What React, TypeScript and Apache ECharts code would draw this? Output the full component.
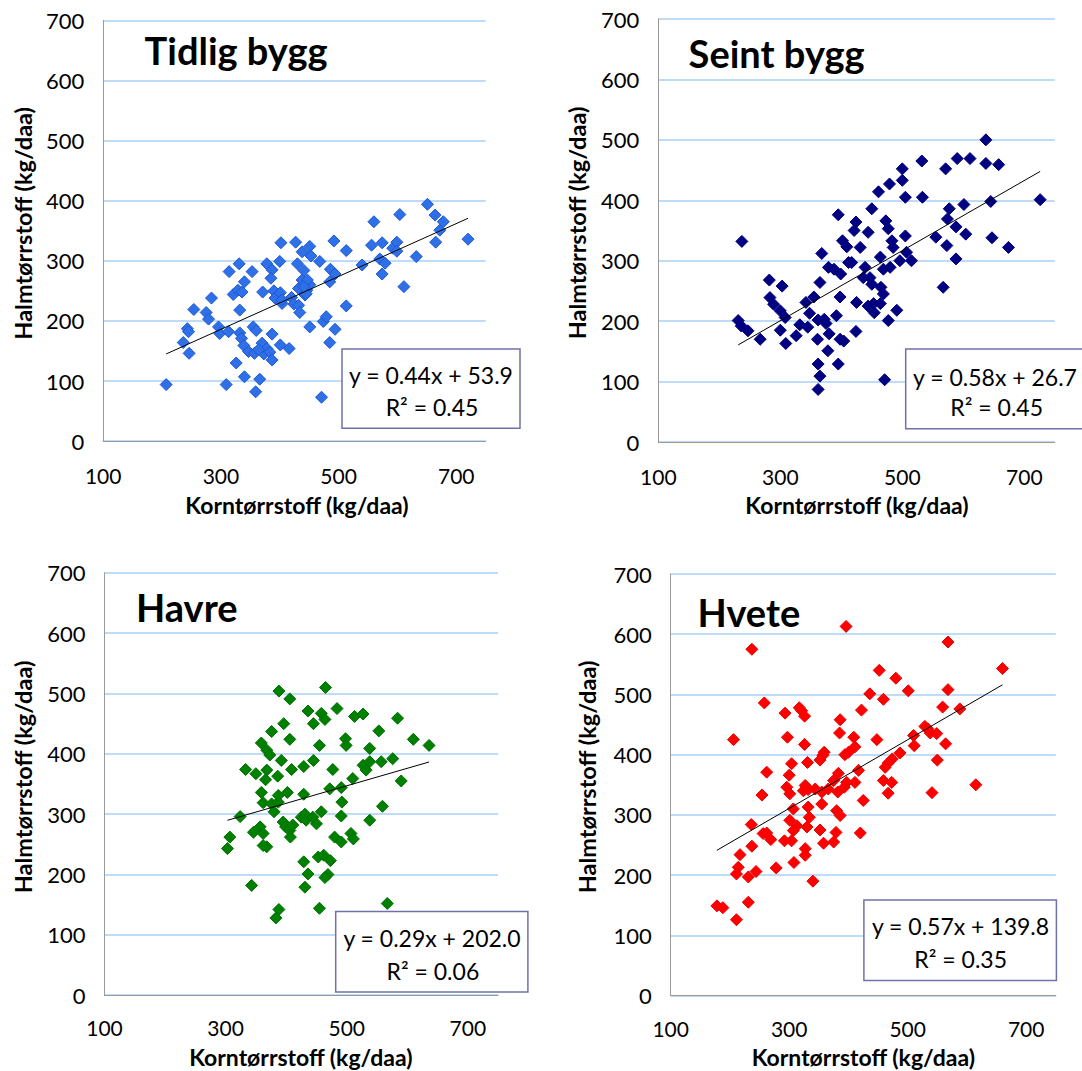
import React, { useEffect, useRef } from "react";
import * as echarts from "echarts";

// ---------- data ----------
const panelTitles = ["Tidlig bygg", "Seint bygg", "Havre", "Hvete"];
const xAxisTitle = "Korntørrstoff (kg/daa)";
const yAxisTitle = "Halmtørrstoff (kg/daa)";
const xTicks = [100, 300, 500, 700];
const yTicks = [0, 100, 200, 300, 400, 500, 600, 700];
const slopes = [0.44, 0.58, 0.29, 0.57];
const intercepts = [53.9, 26.7, 202.0, 139.8];
const rSquared = [0.45, 0.45, 0.06, 0.35];

const tidligBygg = [
  [207, 94], [236, 164], [246, 146], [243, 187], [245, 182], [254, 219], [275, 214], [279, 203], [284, 238],
  [296, 190], [298, 179], [313, 182], [314, 282], [331, 295], [321, 244], [329, 251], [336, 248], [340, 265],
  [332, 218], [332, 180], [335, 171], [339, 159], [347, 149], [326, 130], [340, 107], [309, 94], [359, 82],
  [366, 103], [353, 282], [355, 190], [360, 184], [357, 146], [370, 163], [373, 145], [378, 154], [383, 148],
  [387, 135], [387, 178], [371, 248], [378, 295], [387, 285], [385, 271], [390, 250], [392, 238], [400, 299],
  [401, 247], [402, 330], [404, 229], [401, 160], [416, 154], [420, 239], [424, 228], [427, 331], [432, 226],
  [434, 214], [430, 295], [432, 254], [438, 315], [438, 268], [441, 284], [446, 251], [443, 243], [451, 324],
  [453, 308], [451, 260], [447, 268], [445, 245], [451, 190], [468, 299], [471, 73], [474, 199], [479, 207],
  [486, 286], [485, 265], [492, 333], [494, 278], [494, 186], [485, 164], [513, 317], [513, 225], [540, 293],
  [556, 326], [560, 365], [574, 330], [570, 303], [579, 296], [574, 278], [592, 321], [599, 331], [599, 316],
  [604, 377], [611, 257], [632, 307], [651, 394], [664, 376], [672, 351], [678, 365], [665, 331], [720, 336],
  [441, 257], [404, 235], [364, 152],
];

const seintBygg = [
  [237, 332], [231, 201], [236, 192], [247, 184], [267, 170], [282, 268], [303, 258], [283, 239], [289, 228],
  [300, 217], [308, 206], [300, 185], [309, 163], [326, 176], [332, 194], [345, 190], [348, 213], [342, 231],
  [355, 240], [365, 264], [368, 312], [362, 202], [372, 203], [375, 196], [361, 170], [380, 179], [392, 209],
  [398, 170], [404, 167], [378, 151], [362, 129], [365, 109], [362, 87], [395, 129], [424, 183], [398, 240],
  [379, 289], [388, 286], [399, 278], [412, 297], [417, 297], [402, 333], [409, 323], [395, 376], [424, 364],
  [421, 350], [431, 322], [444, 347], [450, 386], [461, 414], [479, 427], [500, 452], [500, 433], [505, 405],
  [532, 465], [533, 405], [439, 289], [447, 272], [450, 261], [464, 306], [469, 286], [480, 289], [473, 366],
  [477, 353], [483, 333], [485, 322], [505, 341], [496, 300], [507, 314], [515, 300], [465, 256], [469, 245],
  [453, 229], [444, 225], [454, 214], [464, 229], [477, 201], [491, 218], [425, 231], [555, 339], [573, 325],
  [577, 386], [574, 369], [588, 356], [601, 393], [604, 344], [588, 303], [567, 256], [571, 452], [590, 469],
  [611, 469], [637, 500], [637, 461], [658, 459], [645, 398], [647, 338], [674, 322], [726, 401], [471, 103],
  [436, 272],
];

const havre = [
  [388, 504], [406, 491], [465, 510], [436, 471], [458, 467], [464, 457], [445, 450], [484, 475], [513, 462],
  [527, 466], [396, 450], [376, 437], [406, 424], [455, 414], [498, 425], [499, 414], [553, 438], [584, 459],
  [610, 424], [636, 414], [359, 418], [368, 406], [373, 398], [392, 389], [333, 374], [350, 367], [368, 373],
  [366, 357], [386, 363], [409, 374], [429, 379], [445, 389], [477, 374], [538, 409], [527, 381], [538, 387],
  [557, 387], [576, 392], [532, 373], [590, 355], [510, 359], [491, 344], [472, 342], [359, 336], [402, 336],
  [429, 333], [362, 319], [376, 317], [387, 320], [380, 304], [324, 296], [492, 320], [559, 313], [538, 290],
  [491, 297], [458, 304], [450, 284], [425, 295], [431, 300], [433, 290], [395, 287], [399, 279], [406, 273],
  [411, 282], [407, 262], [346, 270], [357, 279], [362, 268], [368, 246], [362, 248], [307, 262], [303, 243],
  [480, 262], [491, 254], [507, 268], [511, 259], [429, 221], [453, 229], [462, 232], [473, 223], [436, 201],
  [469, 200], [464, 195], [431, 179], [343, 182], [388, 142], [383, 128], [455, 144], [567, 152], [387, 331],
  [444, 295],
];

const hvete = [
  [396, 613], [237, 575], [568, 587], [660, 543], [452, 540], [480, 527], [501, 506], [436, 501], [459, 492],
  [568, 508], [559, 479], [588, 476], [258, 486], [422, 474], [293, 469], [317, 478], [321, 473], [326, 464],
  [386, 458], [385, 436], [409, 429], [448, 425], [411, 413], [400, 404], [394, 400], [359, 404], [357, 399],
  [352, 391], [331, 387], [297, 429], [326, 417], [206, 425], [510, 432], [534, 443], [538, 436], [549, 435],
  [564, 418], [550, 391], [529, 447], [511, 415], [487, 403], [474, 393], [467, 386], [462, 379], [459, 357],
  [473, 354], [467, 336], [541, 337], [615, 350], [417, 374], [411, 354], [425, 324], [420, 270], [383, 369],
  [375, 357], [366, 343], [355, 338], [344, 343], [332, 342], [324, 340], [327, 349], [304, 385], [300, 366],
  [296, 346], [301, 335], [262, 371], [254, 333], [236, 284], [256, 269], [269, 259], [307, 310], [301, 291],
  [313, 282], [307, 274], [332, 313], [334, 296], [330, 280], [355, 318], [380, 307], [386, 299], [352, 275],
  [292, 257], [304, 257], [358, 253], [375, 255], [379, 271], [327, 244], [327, 233], [308, 221], [278, 212],
  [237, 248], [217, 234], [214, 213], [211, 202], [231, 197], [244, 206], [340, 190], [178, 149], [188, 146],
  [231, 155], [211, 126], [393, 346], [397, 354], [382, 338], [262, 270],
];

const seriesData = [tidligBygg, seintBygg, havre, hvete];

// ---------- styles & layout ----------
const FONT = "Lato, 'Open Sans', sans-serif";
const markerColors = ["#2f70e8", "#000080", "#008000", "#ff0000"];
const markerBorders = ["#1c5ad0", "#000080", "#007000", "#ee0000"];

const layouts = [
  {
    grid: { left: 103.2, top: 20.4, width: 382.5, height: 420.7 },
    title: [144.6, 50], yTitle: [23.4, 223.3], xTitle: [297, 505], labelMargin: 23.5,
    box: [342, 349, 178, 79.3], eq: [431, 375], r2: [432, 406.7],
  },
  {
    grid: { left: 658.3, top: 19, width: 396.5, height: 423 },
    title: [688.6, 53.3], yTitle: [577, 223], xTitle: [857, 505], labelMargin: 23.5,
    box: [905.7, 349, 182, 79.7], eq: [995, 376.7], r2: [996.7, 406.7],
  },
  {
    grid: { left: 104.5, top: 572.8, width: 393.6, height: 422.4 },
    title: [136, 607], yTitle: [23.4, 777], xTitle: [300.8, 1057], labelMargin: 22,
    box: [335.7, 911.5, 192.2, 80.5], eq: [432, 937.9], r2: [432.9, 970.7],
  },
  {
    grid: { left: 670.7, top: 574, width: 385.1, height: 421.6 },
    title: [697.5, 612], yTitle: [586.7, 777], xTitle: [863.3, 1057], labelMargin: 22,
    box: [863.9, 900, 192.5, 80.6], eq: [960.5, 926], r2: [960.7, 958.9],
  },
];

function buildOption() {
  const grids: any[] = [];
  const xAxes: any[] = [];
  const yAxes: any[] = [];
  const series: any[] = [];
  const graphics: any[] = [];

  seriesData.forEach((data, i) => {
    const L = layouts[i];
    grids.push({ ...L.grid, containLabel: false });
    xAxes.push({
      gridIndex: i,
      type: "value",
      min: xTicks[0],
      max: 750,
      interval: xTicks[1] - xTicks[0],
      axisLine: { show: true, onZero: false, lineStyle: { color: "#9a9a9a", width: 1 } },
      axisTick: { show: false },
      splitLine: { show: false },
      axisLabel: {
        showMaxLabel: false,
        margin: L.labelMargin,
        fontSize: 21,
        fontFamily: FONT,
        color: "#000",
      },
    });
    yAxes.push({
      gridIndex: i,
      type: "value",
      min: yTicks[0],
      max: yTicks[yTicks.length - 1],
      interval: yTicks[1] - yTicks[0],
      axisLine: { show: true, onZero: false, lineStyle: { color: "#9a9a9a", width: 1 } },
      axisTick: { show: false },
      splitLine: { show: true, lineStyle: { color: "#a9d1f5", width: 1.5 } },
      axisLabel: {
        margin: 19,
        fontSize: 22,
        fontFamily: FONT,
        color: "#000",
        padding: [8, 0, 0, 0],
      },
    });
    series.push({
      type: "scatter",
      xAxisIndex: i,
      yAxisIndex: i,
      data,
      symbol: "diamond",
      symbolSize: 12,
      itemStyle: { color: markerColors[i], borderColor: markerBorders[i], borderWidth: 1, opacity: 1 },
      silent: true,
      z: 2,
    });
    const xs = data.map((d) => d[0]);
    const xMin = Math.min(...xs);
    const xMax = Math.max(...xs);
    series.push({
      type: "line",
      xAxisIndex: i,
      yAxisIndex: i,
      data: [
        [xMin, slopes[i] * xMin + intercepts[i]],
        [xMax, slopes[i] * xMax + intercepts[i]],
      ],
      symbol: "none",
      lineStyle: { color: "#000", width: 1 },
      silent: true,
      z: 3,
    });

    // panel title
    graphics.push({
      type: "text",
      x: L.title[0],
      y: L.title[1],
      z: 10,
      style: {
        text: panelTitles[i],
        font: `bold 38px ${FONT}`,
        fill: "#000",
        align: "left",
        verticalAlign: "middle",
      },
    });
    // y-axis title (rotated)
    graphics.push({
      type: "text",
      x: L.yTitle[0],
      y: L.yTitle[1],
      rotation: Math.PI / 2,
      z: 10,
      style: {
        text: yAxisTitle,
        font: `bold 23.5px ${FONT}`,
        fill: "#000",
        align: "center",
        verticalAlign: "middle",
      },
    });
    // x-axis title
    graphics.push({
      type: "text",
      x: L.xTitle[0],
      y: L.xTitle[1],
      z: 10,
      style: {
        text: xAxisTitle,
        font: `bold 23px ${FONT}`,
        fill: "#000",
        align: "center",
        verticalAlign: "middle",
      },
    });
    // regression box
    graphics.push({
      type: "rect",
      z: 9,
      shape: { x: L.box[0], y: L.box[1], width: L.box[2], height: L.box[3] },
      style: { fill: "#ffffff", stroke: "#7070aa", lineWidth: 1.5 },
    });
    graphics.push({
      type: "text",
      x: L.eq[0],
      y: L.eq[1],
      z: 10,
      style: {
        text: `y = ${slopes[i].toFixed(2)}x + ${intercepts[i].toFixed(1)}`,
        font: `23px ${FONT}`,
        fill: "#000",
        align: "center",
        verticalAlign: "middle",
      },
    });
    graphics.push({
      type: "text",
      x: L.r2[0],
      y: L.r2[1],
      z: 10,
      style: {
        text: `R² = ${rSquared[i].toFixed(2)}`,
        font: `23px ${FONT}`,
        fill: "#000",
        align: "center",
        verticalAlign: "middle",
      },
    });
  });

  return {
    animation: false,
    backgroundColor: "#ffffff",
    grid: grids,
    xAxis: xAxes,
    yAxis: yAxes,
    series,
    graphic: { elements: graphics },
  };
}

export default function App() {
  const ref = useRef<HTMLDivElement>(null);
  useEffect(() => {
    if (!ref.current) return;
    const chart = echarts.init(ref.current, undefined, { renderer: "svg" });
    chart.setOption(buildOption() as any);
    return () => chart.dispose();
  }, []);
  return (
    <div
      ref={ref}
      style={{ position: "fixed", left: 0, top: 0, width: 1082, height: 1071, background: "#fff" }}
    />
  );
}
